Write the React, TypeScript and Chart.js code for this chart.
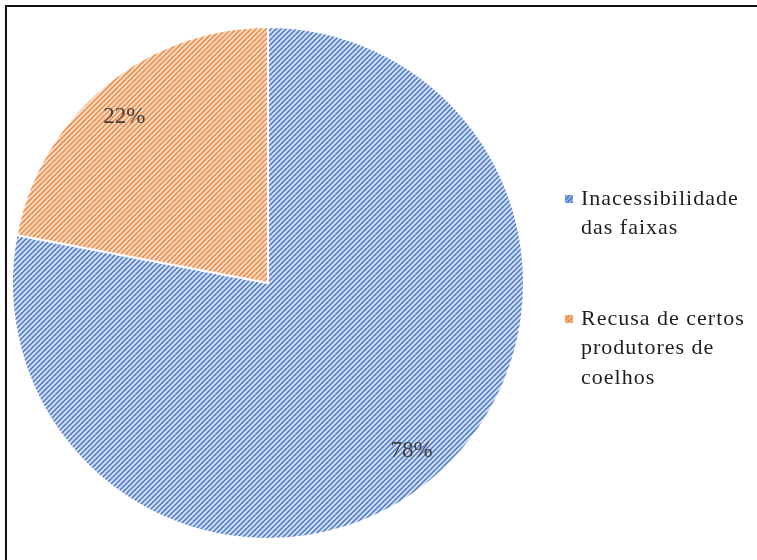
import React, { useEffect, useRef } from "react";
import { Chart, registerables } from "chart.js";

Chart.register(...registerables);

const categories = ["Inacessibilidade das faixas", "Recusa de certos produtores de coelhos"];
const legendLines = [["Inacessibilidade", "das faixas"], ["Recusa de certos", "produtores de", "coelhos"]];
const values = [78, 22];
const percentLabels = ["78%", "22%"];
const lineColors = ["#4a78c8", "#ee8840"];
const fillColors = ["#d3def3", "#fbdcc6"];

function makePattern(bg: string, fg: string): CanvasPattern | string {
  const size = 5;
  const c = document.createElement("canvas");
  c.width = size;
  c.height = size;
  const ctx = c.getContext("2d");
  if (!ctx) return fg;
  ctx.fillStyle = bg;
  ctx.fillRect(0, 0, size, size);
  ctx.strokeStyle = fg;
  ctx.lineWidth = 1.5;
  ctx.beginPath();
  ctx.moveTo(-1, size + 1);
  ctx.lineTo(size + 1, -1);
  ctx.moveTo(-1, 1);
  ctx.lineTo(1, -1);
  ctx.moveTo(size - 1, size + 1);
  ctx.lineTo(size + 1, size - 1);
  ctx.stroke();
  const p = ctx.createPattern(c, "repeat");
  return p || fg;
}

export default function App() {
  const ref = useRef<HTMLCanvasElement | null>(null);

  useEffect(() => {
    if (!ref.current) return;
    const patterns = values.map((_, i) => makePattern(fillColors[i], lineColors[i]));

    const labelPlugin = {
      id: "pctLabels",
      afterDatasetsDraw(chart: any) {
        const ctx = chart.ctx;
        const meta = chart.getDatasetMeta(0);
        ctx.save();
        ctx.font = "23px 'Liberation Serif', 'Times New Roman', serif";
        ctx.fillStyle = "#404040";
        ctx.textAlign = "center";
        ctx.textBaseline = "middle";
        meta.data.forEach((el: any, i: number) => {
          const p = el.getProps(["x", "y", "startAngle", "endAngle", "outerRadius"], true);
          const mid = (p.startAngle + p.endAngle) / 2 - 0.02;
          const r = p.outerRadius * 0.86;
          ctx.fillText(percentLabels[i], p.x + Math.cos(mid) * r, p.y + Math.sin(mid) * r + 1);
        });
        ctx.restore();
      },
    };

    const legendPlugin = {
      id: "sideLegend",
      afterDraw(chart: any) {
        const ctx = chart.ctx;
        ctx.save();
        ctx.font = "22px 'Liberation Serif', 'Times New Roman', serif";
        (ctx as any).letterSpacing = "1px";
        ctx.textAlign = "left";
        ctx.textBaseline = "middle";
        const x0 = 565;
        const starts = [199, 319];
        const lh = 29.5;
        legendLines.forEach((lines, i) => {
          const y = starts[i];
          ctx.fillStyle = patterns[i] as any;
          ctx.fillRect(x0, y - 4, 8, 8);
          ctx.fillStyle = lineColors[i];
          ctx.globalAlpha = 0.5;
          ctx.fillRect(x0, y - 4, 8, 8);
          ctx.globalAlpha = 1;
          ctx.fillStyle = "#1e1e1e";
          lines.forEach((t, j) => ctx.fillText(t, x0 + 16, y + j * lh));
        });
        ctx.restore();
      },
    };

    const chart = new Chart(ref.current, {
      type: "pie",
      data: {
        labels: categories,
        datasets: [
          {
            data: values,
            backgroundColor: patterns as any,
            borderColor: "#ffffff",
            borderWidth: 2,
          },
        ],
      },
      options: {
        responsive: false,
        animation: false,
        layout: { padding: { left: 11, top: 26, right: 232, bottom: 20 } },
        plugins: {
          legend: { display: false },
          tooltip: { enabled: false },
        },
      },
      plugins: [labelPlugin, legendPlugin],
    });
    return () => chart.destroy();
  }, []);

  return (
    <div style={{ position: "absolute", left: 0, top: 0, width: 757, height: 560, background: "#fff" }}>
      <canvas ref={ref} width={757} height={560} style={{ position: "absolute", left: 0, top: 0 }} />
      <div
        style={{
          position: "absolute",
          left: 5,
          top: 5,
          width: 760,
          height: 560,
          borderTop: "2px solid #111",
          borderLeft: "2px solid #111",
          pointerEvents: "none",
        }}
      />
    </div>
  );
}
